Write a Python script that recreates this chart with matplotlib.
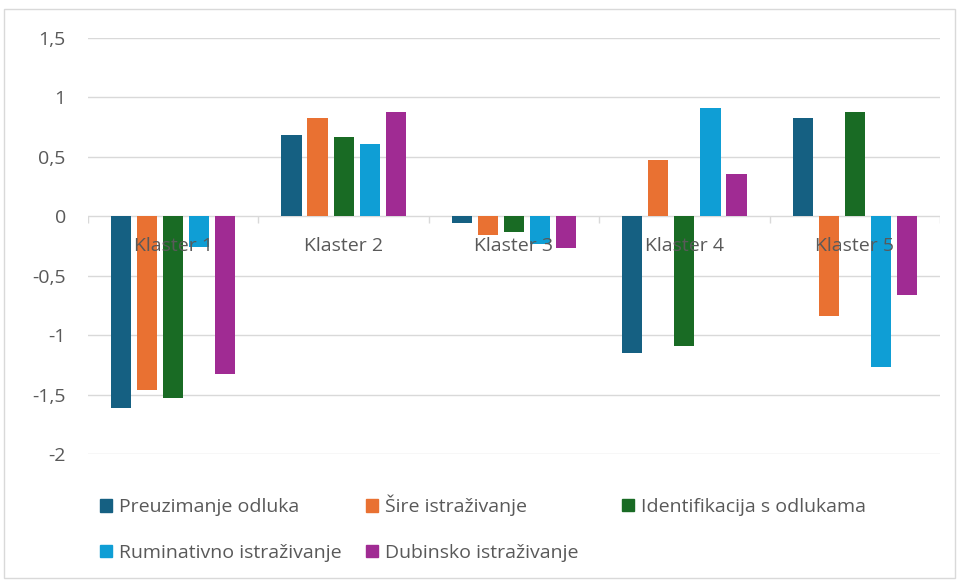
import numpy as np
import matplotlib.pyplot as plt
from matplotlib.patches import Rectangle, Patch

plt.rcParams['font.family'] = ['Open Sans', 'DejaVu Sans']

clusters = ['Klaster 1', 'Klaster 2', 'Klaster 3', 'Klaster 4', 'Klaster 5']
series = ['Preuzimanje odluka', 'Šire istraživanje', 'Identifikacija s odlukama',
          'Ruminativno istraživanje', 'Dubinsko istraživanje']
preuzimanje = [-1.61, 0.68, -0.06, -1.15, 0.83]
sire = [-1.46, 0.83, -0.16, 0.47, -0.84]
identifikacija = [-1.53, 0.665, -0.135, -1.09, 0.875]
ruminativno = [-0.26, 0.61, -0.23, 0.91, -1.27]
dubinsko = [-1.33, 0.875, -0.27, 0.355, -0.665]
colors = ['#156082', '#E97132', '#196B24', '#0F9ED5', '#A02B93']

yticks = [1.5, 1, 0.5, 0, -0.5, -1, -1.5, -2]
ytick_labels = ['1,5', '1', '0,5', '0', '-0,5', '-1', '-1,5', '-2']

text_col = '#595959'
grid_col = '#D9D9D9'
fs = 14

fig = plt.figure(figsize=(9.58, 5.81), dpi=100)
ax = fig.add_axes([88/958, 1-454/581, (940-88)/958, (454-38)/581])

x = np.arange(len(clusters))
step = 0.153
width = 0.118
for i, (vals, c) in enumerate(zip([preuzimanje, sire, identifikacija, ruminativno, dubinsko], colors)):
    ax.bar(x + (i - 2) * step, vals, width, color=c, label=series[i], zorder=2)

ax.set_xlim(-0.5, 4.5)
ax.set_ylim(-2, 1.5)
ax.set_yticks(yticks)
ax.set_yticklabels(ytick_labels)
ax.tick_params(axis='y', length=0, pad=16, labelsize=fs, labelcolor=text_col)
ax.set_xticks([])
for s in ax.spines.values():
    s.set_visible(False)
for y in yticks:
    ax.axhline(y, color=grid_col, lw=1, zorder=1)
# category boundary ticks on the zero line
ax.vlines(np.arange(len(clusters) + 1) - 0.5, -0.06, 0, color=grid_col, lw=1, zorder=1)

for xi, name in zip(x, clusters):
    ax.annotate(name, (xi, 0), xytext=(0, -15), textcoords='offset points',
                ha='center', va='top', fontsize=fs, color=text_col, zorder=5)

handles = [Patch(color=c) for c in colors]
leg_kw = dict(loc='upper left', frameon=False, fontsize=fs, handlelength=0.62,
              handleheight=0.62, handletextpad=0.35, labelspacing=1.4,
              labelcolor=text_col, borderaxespad=0, borderpad=0)
order = [0, 3, 1, 4]
fig.legend([handles[i] for i in order], [series[i] for i in order], ncol=2,
           columnspacing=1.26, bbox_to_anchor=(100/958, 1-495/581), **leg_kw)
fig.legend([handles[2]], [series[2]], bbox_to_anchor=(622/958, 1-498/581), **leg_kw)

fig.patches.append(Rectangle((4/958, 3/581), 951/958, 569/581, transform=fig.transFigure,
                             fill=False, edgecolor=grid_col, lw=1))

fig.savefig('out.png', dpi=100)
